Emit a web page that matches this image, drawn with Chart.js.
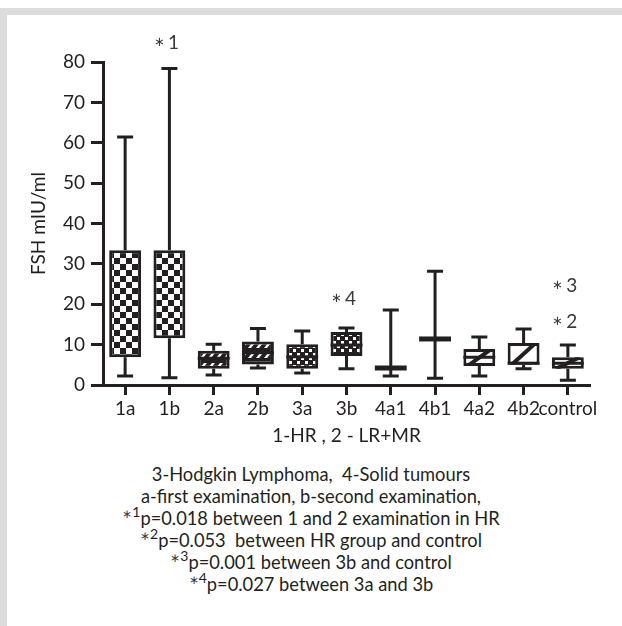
<!DOCTYPE html>
<html>
<head>
<meta charset="utf-8">
<script src="https://cdn.jsdelivr.net/npm/chart.js@4/dist/chart.umd.min.js"></script>
<style>
  body { margin: 0; background: #fff; font-family: Lato, sans-serif; color: #231f20; }
  .band-top { position: absolute; left: 0; top: 8px; width: 622px; height: 7px; background: #dcdcdc; }
  .band-left { position: absolute; left: 0; top: 8px; width: 7px; height: 618px; background: #dcdcdc; }
  #wrap { position: absolute; left: 0; top: 0; width: 622px; height: 460px; }
  .caption { position: absolute; left: 0; top: 463px; width: 622px; text-align: center; font-size: 18.3px; line-height: 22px; }
  .st { position: relative; top: -7px; font-size: 12px; line-height: 0; color: #3a3a3a; }
  .st sup { font-size: 14px; line-height: 0; vertical-align: baseline; position: relative; top: -1px; color: #231f20; }
</style>
</head>
<body>
<div class="band-top"></div>
<div class="band-left"></div>
<div id="wrap"><canvas id="chart" width="622" height="460"></canvas></div>
<div class="caption">
  3-Hodgkin Lymphoma,&nbsp; 4-Solid tumours<br>
  a-first examination, b-second examination,<br>
  <span class="st">∗<sup>1</sup></span>p=0.018 between 1 and 2 examination in HR<br>
  <span class="st">∗<sup>2</sup></span>p=0.053&nbsp; between HR group and control<br>
  <span class="st">∗<sup>3</sup></span>p=0.001 between 3b and control<br>
  <span class="st">∗<sup>4</sup></span>p=0.027 between 3a and 3b
</div>
<script>
const categories = ['1a', '1b', '2a', '2b', '3a', '3b', '4a1', '4b1', '4a2', '4b2', 'control']
const mins    = [2.2, 1.8, 2.5, 4.2, 3.0, 4.0, 2.2, 1.7, 2.2, 4.0, 1.2]
const q1      = [6.9, 11.6, 4.0, 5.1, 4.0, 7.2, 4.2, 11.4, 4.7, 5.0, 4.0]
const medians = [19, 22, 6.6, 8.0, 7.0, 9.9, 4.2, 11.4, 6.9, 5.4, 5.4]
const q3      = [33.4, 33.4, 8.5, 10.8, 10.1, 13.1, 4.2, 11.4, 8.9, 10.4, 6.9]
const maxs    = [61.4, 78.4, 10.1, 14.0, 13.4, 14.1, 18.6, 28.2, 11.9, 13.9, 9.9]
const yTicks  = [0, 10, 20, 30, 40, 50, 60, 70, 80]

// significance marks above boxes
const noteLabels     = ['1', '4', '3', '2']
const noteCategories = ['1b', '3b', 'control', 'control']
const noteValues     = [85, 21.5, 24.8, 15.8]

const INK = '#231f20'
const boxFills = ['checker', 'checker', 'hatch', 'hatch', 'dots', 'dots', 'none', 'none', 'slash', 'slash', 'slash']

function makePattern(kind) {
  const c = document.createElement('canvas')
  const g = c.getContext('2d')
  if (kind === 'checker') {
    c.width = 12; c.height = 12
    g.fillStyle = '#fff'; g.fillRect(0, 0, 12, 12)
    g.fillStyle = INK
    g.fillRect(0, 0, 6, 6); g.fillRect(6, 6, 6, 6)
  } else if (kind === 'hatch') {
    c.width = 8; c.height = 10
    g.fillStyle = INK; g.fillRect(0, 0, 8, 10)
    g.fillStyle = '#fff'
    g.beginPath(); g.moveTo(0, 8); g.lineTo(3, 8); g.lineTo(7, 3); g.lineTo(4, 3); g.closePath(); g.fill()
  } else if (kind === 'dots') {
    c.width = 8; c.height = 8
    g.fillStyle = INK; g.fillRect(0, 0, 8, 8)
    g.fillStyle = '#fff'
    g.fillRect(1, 1, 3, 3); g.fillRect(5, 5, 3, 3)
  } else {
    return '#fff'
  }
  return g.createPattern(c, 'repeat')
}

const boxPlotPlugin = {
  id: 'boxPlot',
  afterDatasetsDraw(chart) {
    const ctx = chart.ctx
    const y = chart.scales.y
    const meta = chart.getDatasetMeta(0)
    ctx.save()
    ctx.strokeStyle = INK
    ctx.lineCap = 'butt'
    meta.data.forEach((bar, i) => {
      const cx = bar.x
      const half = bar.width / 2
      const cap = 8
      const yMin = y.getPixelForValue(mins[i])
      const yMax = y.getPixelForValue(maxs[i])
      const yQ1 = y.getPixelForValue(q1[i])
      const yQ3 = y.getPixelForValue(q3[i])
      const yMed = y.getPixelForValue(medians[i])

      // slash fill for the open boxes
      if (boxFills[i] === 'slash') {
        ctx.save()
        ctx.beginPath(); ctx.rect(cx - half, yQ3, bar.width, yQ1 - yQ3); ctx.clip()
        ctx.lineWidth = 4
        ctx.beginPath(); ctx.moveTo(cx - half + 4, yQ1); ctx.lineTo(cx + half - 4, yQ3); ctx.stroke()
        ctx.restore()
      }

      ctx.lineWidth = 3
      ctx.beginPath()
      ctx.moveTo(cx, yQ3); ctx.lineTo(cx, yMax)
      ctx.moveTo(cx, yQ1); ctx.lineTo(cx, yMin)
      ctx.moveTo(cx - cap, yMax); ctx.lineTo(cx + cap, yMax)
      ctx.moveTo(cx - cap, yMin); ctx.lineTo(cx + cap, yMin)
      ctx.stroke()

      // median is hidden inside the checker fill
      if (boxFills[i] !== 'checker') {
        ctx.lineWidth = q1[i] === q3[i] ? 5 : 3
        ctx.beginPath()
        ctx.moveTo(cx - half, yMed); ctx.lineTo(cx + half, yMed)
        ctx.stroke()
      }
    })

    // note labels: small asterisk + number
    ctx.textBaseline = 'alphabetic'
    noteLabels.forEach((t, k) => {
      const px = chart.scales.x.getPixelForValue(categories.indexOf(noteCategories[k]))
      const py = y.getPixelForValue(noteValues[k]) + 7
      ctx.font = '19px Lato, sans-serif'
      const w = ctx.measureText(t).width
      ctx.fillStyle = '#3a3a3a'
      ctx.textAlign = 'right'
      ctx.font = '13px Lato, sans-serif'
      ctx.fillText('∗', px - w / 2 + 1, py - 3)
      ctx.textAlign = 'center'
      ctx.font = '19px Lato, sans-serif'
      ctx.fillText(t, px + 4, py)
    })
    ctx.restore()
  }
}

const font = { family: 'Lato, sans-serif', size: 19 }

new Chart(document.getElementById('chart'), {
  type: 'bar',
  data: {
    labels: categories,
    datasets: [{
      data: categories.map((c, i) => [q1[i], q3[i]]),
      backgroundColor: boxFills.map(makePattern),
      borderColor: INK,
      borderWidth: 3,
      borderSkipped: false,
      barPercentage: 0.72,
      categoryPercentage: 1
    }]
  },
  options: {
    responsive: false,
    animation: false,
    layout: { padding: { left: 20, top: 62, right: 32, bottom: 0 } },
    plugins: {
      legend: { display: false },
      tooltip: { enabled: false }
    },
    scales: {
      x: {
        offset: true,
        afterFit(scale) { scale.height = 75 },
        grid: { drawOnChartArea: false, offset: false, tickLength: 10, tickWidth: 3, tickColor: INK },
        border: { display: true, width: 3, color: INK },
        ticks: { color: INK, font: font, padding: 2, maxRotation: 0, autoSkip: false },
        title: { display: true, text: '1-HR , 2 - LR+MR', color: INK, font: font, padding: { top: 0, bottom: 13 } }
      },
      y: {
        min: 0,
        max: 80,
        afterFit(scale) { scale.width = 83 },
        afterBuildTicks(scale) { scale.ticks = yTicks.map(v => ({ value: v })) },
        grid: { drawOnChartArea: false, tickLength: 12, tickWidth: 3, tickColor: INK },
        border: { display: true, width: 3, color: INK },
        ticks: { color: INK, font: font, padding: 6 },
        title: { display: true, text: 'FSH mIU/ml', color: INK, font: font, padding: { top: 7, bottom: 0 } }
      }
    }
  },
  plugins: [boxPlotPlugin]
})
</script>
</body>
</html>
